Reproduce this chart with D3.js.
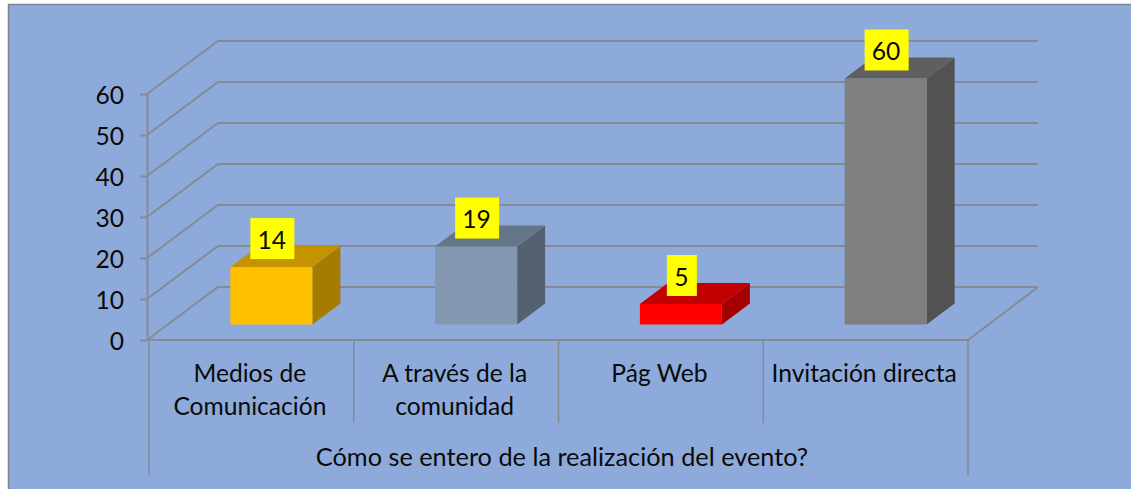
<!DOCTYPE html>
<html>
<head>
<meta charset="utf-8">
<script src="https://cdn.jsdelivr.net/npm/d3@7"></script>
<style>
  html, body { margin: 0; padding: 0; background: #fff; }
  svg { display: block; }
  text { font-family: Lato, "Open Sans", sans-serif; fill: #0a0a0a; }
</style>
</head>
<body>
<div id="chart"></div>
<script>
const categories = ["Medios de Comunicación", "A través de la comunidad", "Pág Web", "Invitación directa"];
const categoryLines = [["Medios de", "Comunicación"], ["A través de la", "comunidad"], ["Pág Web"], ["Invitación directa"]];
const values = [14, 19, 5, 60];
const yTicks = [0, 10, 20, 30, 40, 50, 60];
const axisTitle = "Cómo se entero de la realización del evento?";
const frontColors = ["#ffc000", "#8497b0", "#ff0000", "#7f7f7f"];
const topColors = ["#c49300", "#65758a", "#c30000", "#5f5f5f"];
const sideColors = ["#a67c00", "#546171", "#a50000", "#525252"];

const width = 1131, height = 489;
const plot = {left: 149, right: 968, bottom: 340, top: 94};
// 3d box offset of the back wall, bars sit in the middle of the floor
const depth = {x: 69, y: -53};
const barGap = {x: 20, y: -15.5};
const barDepth = {x: 28, y: -21};
const gridColor = "#858a94";
const fontSize = 24.6;

const svg = d3.select("#chart").append("svg")
    .attr("width", width)
    .attr("height", height)
    .attr("viewBox", [0, 0, width, height]);

svg.append("rect")
    .attr("x", 8.5).attr("y", 4.5)
    .attr("width", width + 10).attr("height", height + 10)
    .attr("fill", "#8eaadb")
    .attr("stroke", "#7a8494")
    .attr("stroke-width", 1.5);

const scaleX = d3.scaleBand()
    .domain(categories)
    .range([plot.left, plot.right])
    .paddingInner(0)
    .paddingOuter(0);
const scaleY = d3.scaleLinear()
    .domain([0, 60])
    .range([plot.bottom, plot.top]);
const barWidth = 82;

// wall gridlines and side wall
const grid = svg.append("g")
    .attr("fill", "none")
    .attr("stroke", gridColor)
    .attr("stroke-width", 2);
grid.selectAll("path")
    .data(yTicks)
    .join("path")
    .attr("d", d => `M${plot.left - 2},${scaleY(d)}L${plot.left - 2 + depth.x + 2},${scaleY(d) + depth.y}H${plot.right + depth.x + 1}`);
// floor
grid.append("path")
    .attr("d", `M${plot.left},${plot.bottom}H${plot.right}L${plot.right + depth.x + 1},${plot.bottom + depth.y}`);

// y axis
const yAxis = svg.append("g")
    .attr("transform", `translate(${plot.left - 2},0)`)
    .call(d3.axisLeft(scaleY).tickValues(yTicks).tickSize(7).tickPadding(16).tickSizeOuter(0));
yAxis.selectAll("path, line").attr("stroke", gridColor).attr("stroke-width", 2);
yAxis.selectAll("text")
    .attr("font-size", fontSize)
    .attr("font-family", "Lato")
    .attr("fill", "#0a0a0a")
    .attr("dy", "0.38em");

// category separators
const seps = [...categories.map(c => scaleX(c)), plot.right];
svg.append("g")
    .attr("stroke", gridColor)
    .attr("stroke-width", 1.5)
    .selectAll("line")
    .data(seps)
    .join("line")
    .attr("x1", d => d)
    .attr("x2", d => d)
    .attr("y1", plot.bottom)
    .attr("y2", (d, i) => (i === 0 || i === seps.length - 1) ? 475 : 423);

// bars, each one three polygons
const bars = svg.append("g")
    .selectAll("g")
    .data(values)
    .join("g")
    .attr("transform", (d, i) => {
        const x = scaleX(categories[i]) + scaleX.bandwidth() / 2 - barWidth / 2 + barGap.x;
        return `translate(${x},${barGap.y})`;
    });
bars.append("path")
    .attr("fill", (d, i) => sideColors[i])
    .attr("d", d => `M${barWidth},${scaleY(d)}l${barDepth.x},${barDepth.y}V${scaleY(0) + barDepth.y}L${barWidth},${scaleY(0)}Z`);
bars.append("path")
    .attr("fill", (d, i) => topColors[i])
    .attr("d", d => `M0,${scaleY(d)}l${barDepth.x},${barDepth.y}h${barWidth}l${-barDepth.x},${-barDepth.y}Z`);
bars.append("rect")
    .attr("x", 0)
    .attr("y", d => scaleY(d))
    .attr("width", barWidth)
    .attr("height", d => scaleY(0) - scaleY(d))
    .attr("fill", (d, i) => frontColors[i]);

// data labels
const labels = bars.append("g")
    .attr("transform", d => `translate(${barWidth / 2 + 1},${scaleY(d) - 8})`);
labels.append("rect")
    .attr("x", d => d < 10 ? -15 : -22)
    .attr("y", -41)
    .attr("width", d => d < 10 ? 30 : 44)
    .attr("height", 41)
    .attr("fill", "#ffff00");
labels.append("text")
    .attr("text-anchor", "middle")
    .attr("x", -0.5)
    .attr("y", -10.5)
    .attr("font-size", fontSize)
    .text(d => d);

// category labels
const catLabels = svg.append("g")
    .selectAll("text")
    .data(categoryLines)
    .join("text")
    .attr("text-anchor", "middle")
    .attr("font-size", fontSize)
    .attr("transform", (d, i) => `translate(${scaleX(categories[i]) + scaleX.bandwidth() / 2 - 1.5},0)`);
catLabels.selectAll("tspan")
    .data(d => d)
    .join("tspan")
    .attr("x", 0)
    .attr("y", (d, i) => 382 + i * 33)
    .text(d => d);

svg.append("text")
    .attr("x", (plot.left + plot.right) / 2 + 3.5)
    .attr("y", 466)
    .attr("text-anchor", "middle")
    .attr("font-size", 25.3)
    .text(axisTitle);
</script>
</body>
</html>
